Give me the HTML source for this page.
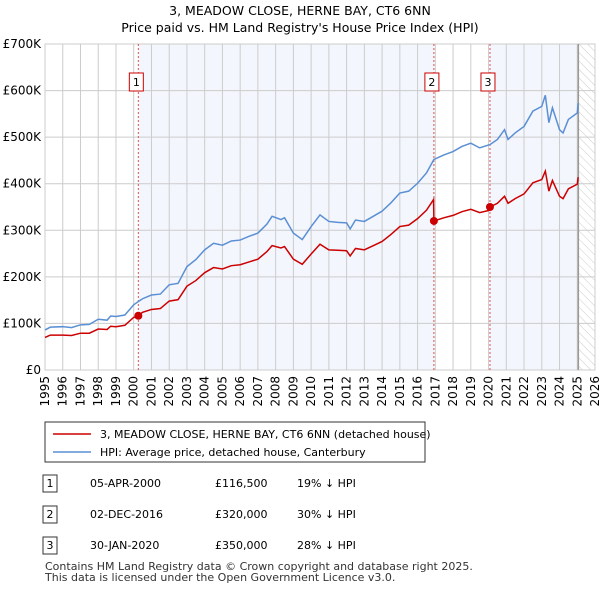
<!DOCTYPE html>
<html><head><meta charset="utf-8"><style>
body{margin:0;background:#fff;font-family:"Liberation Sans","DejaVu Sans",sans-serif;}
svg text{font-family:"DejaVu Sans","Liberation Sans",sans-serif;}
</style></head><body>
<svg id="c" width="600" height="590" xmlns="http://www.w3.org/2000/svg">
<defs><pattern id="h" width="6" height="6" patternUnits="userSpaceOnUse" patternTransform="rotate(-45)"><line x1="0" y1="0" x2="0" y2="6" stroke="#ccc" stroke-width="1"/></pattern></defs>
<text x="300" y="15" text-anchor="middle" font-size="12.5">3, MEADOW CLOSE, HERNE BAY, CT6 6NN</text>
<text x="300" y="32" text-anchor="middle" font-size="12.5">Price paid vs. HM Land Registry's House Price Index (HPI)</text>
<g id="plot"></g>
<g>
<rect x="45" y="422" width="380" height="40" fill="#fff" stroke="#333"/>
<line x1="53" y1="434" x2="91" y2="434" stroke="#cc0000" stroke-width="1.5"/>
<text x="100" y="438" font-size="11">3, MEADOW CLOSE, HERNE BAY, CT6 6NN (detached house)</text>
<line x1="53" y1="452" x2="91" y2="452" stroke="#5b8fd4" stroke-width="1.5"/>
<text x="100" y="456" font-size="11">HPI: Average price, detached house, Canterbury</text>
</g>
<g font-size="11">
<rect x="43" y="475" width="14" height="17" fill="#fff" stroke="#333"/><text x="50" y="487" text-anchor="middle">1</text>
<text x="90" y="487">05-APR-2000</text><text x="215" y="487">£116,500</text><text x="297" y="487">19% ↓ HPI</text>
<rect x="43" y="506" width="14" height="17" fill="#fff" stroke="#333"/><text x="50" y="518" text-anchor="middle">2</text>
<text x="90" y="518">02-DEC-2016</text><text x="215" y="518">£320,000</text><text x="297" y="518">30% ↓ HPI</text>
<rect x="43" y="537" width="14" height="17" fill="#fff" stroke="#333"/><text x="50" y="549" text-anchor="middle">3</text>
<text x="90" y="549">30-JAN-2020</text><text x="215" y="549">£350,000</text><text x="297" y="549">28% ↓ HPI</text>
</g>
<text x="45" y="570" font-size="11" fill="#333">Contains HM Land Registry data © Crown copyright and database right 2025.</text>
<text x="45" y="581" font-size="11" fill="#333">This data is licensed under the Open Government Licence v3.0.</text>
</svg>
<script>
const hpiYears=[1995.0,1995.3,1996,1996.5,1997,1997.5,1998,1998.5,1998.7,1999,1999.5,2000,2000.26,2000.5,2001,2001.5,2002,2002.5,2003,2003.5,2004,2004.5,2005,2005.5,2006,2006.5,2007,2007.5,2007.8,2008.3,2008.5,2009,2009.5,2010,2010.5,2011,2011.5,2012,2012.2,2012.5,2013,2013.5,2014,2014.5,2015,2015.5,2016,2016.5,2016.92,2017.5,2018,2018.5,2019,2019.5,2020.08,2020.5,2020.9,2021.1,2021.5,2022,2022.5,2023,2023.2,2023.4,2023.6,2024,2024.2,2024.5,2025,2025.05];
const hpiValues=[86,92,93,91,97,98,109,107,116,115,118,140,147,153,161,163,183,186,222,237,258,272,268,277,279,287,294,313,330,323,327,294,280,308,333,319,317,316,303,322,319,330,341,359,380,384,401,423,452,462,469,480,487,477,484,495,516,495,509,523,556,566,590,531,563,516,509,538,552,573];
const priceYears=[1995.0,1995.3,1996,1996.5,1997,1997.5,1998,1998.5,1998.7,1999,1999.5,2000,2000.26,2000.5,2001,2001.5,2002,2002.5,2003,2003.5,2004,2004.5,2005,2005.5,2006,2006.5,2007,2007.5,2007.8,2008.3,2008.5,2009,2009.5,2010,2010.5,2011,2011.5,2012,2012.2,2012.5,2013,2013.5,2014,2014.5,2015,2015.5,2016,2016.5,2016.9,2016.92,2017.5,2018,2018.5,2019,2019.5,2020.07,2020.08,2020.5,2020.9,2021.1,2021.5,2022,2022.5,2023,2023.2,2023.4,2023.6,2024,2024.2,2024.5,2025,2025.05];
const priceValues=[70,75,75,74,79,79,88,87,94,93,96,113,116.5,124,130,132,148,151,180,192,209,220,217,224,226,232,238,254,267,262,265,238,227,249,270,258,257,256,245,261,258,267,276,291,308,311,325,343,366,320,327,332,340,345,338,343,350,358,373,358,368,378,402,409,427,384,407,373,368,389,399,414];
const saleYears=[2000.26,2016.92,2020.08];
const saleValues=[116.5,320,350];
const saleLabels=["1","2","3"];
const yTicks=[0,100,200,300,400,500,600,700];
const yTickLabels=["£0","£100K","£200K","£300K","£400K","£500K","£600K","£700K"];
const xTicks=[1995,1996,1997,1998,1999,2000,2001,2002,2003,2004,2005,2006,2007,2008,2009,2010,2011,2012,2013,2014,2015,2016,2017,2018,2019,2020,2021,2022,2023,2024,2025,2026];
const dataEnd=2025.06;

const L=45,R=595,T=44,B=370,X0=1995,X1=2026,YMAX=700;
const x=v=>L+(v-X0)/(X1-X0)*(R-L);
const y=v=>B-v/YMAX*(B-T);
const NS="http://www.w3.org/2000/svg";
const g=document.getElementById('plot');
function mk(t,a,p){const e=document.createElementNS(NS,t);for(const k in a)e.setAttribute(k,a[k]);(p||g).appendChild(e);return e;}

let e;
e=mk('rect',{x:x(saleYears[0]),y:T,width:x(saleYears[1])-x(saleYears[0]),height:B-T,fill:'#f3f6fd'});


e=mk('rect',{x:x(saleYears[2]),y:T,width:x(dataEnd)-x(saleYears[2]),height:B-T,fill:'#f3f6fd'});


e=mk('rect',{x:x(dataEnd),y:T,width:R-x(dataEnd),height:B-T,fill:'url(#h)'});



yTicks.forEach((v,i)=>{
 e=mk('line',{x1:L,x2:R,y1:y(v),y2:y(v),stroke:'#ccc'});
 
 
 e=mk('text',{x:L-4,y:y(v)+4,'text-anchor':'end','font-size':'12'});
 e.textContent=yTickLabels[i];
 
 
});
xTicks.forEach(v=>{
 e=mk('line',{x1:x(v),x2:x(v),y1:T,y2:B,stroke:'#ccc'});
 
 
 e=mk('text',{transform:`translate(${x(v)+4},${B+6}) rotate(-90)`,'text-anchor':'end','font-size':'12'});
 e.textContent=v;
 
 
});
e=mk('rect',{x:L,y:T,width:R-L,height:B-T,fill:'none',stroke:'#ccc'});


e=mk('line',{x1:x(dataEnd),x2:x(dataEnd),y1:T,y2:B,stroke:'#999','stroke-width':1.5});



saleYears.forEach((s,i)=>{
 e=mk('line',{x1:x(s),x2:x(s),y1:T,y2:B,stroke:'#e05050','stroke-dasharray':'2,2'});
 
 
});

e=mk('polyline',{points:hpiYears.map((v,i)=>x(v)+','+y(hpiValues[i])).join(' '),fill:'none',stroke:'#5b8fd4','stroke-width':1.5});


e=mk('polyline',{points:priceYears.map((v,i)=>x(v)+','+y(priceValues[i])).join(' '),fill:'none',stroke:'#cc0000','stroke-width':1.5});



saleYears.forEach((s,i)=>{
 e=mk('circle',{cx:x(s),cy:y(saleValues[i]),r:4,fill:'#cc0000'});
 
 
 e=mk('rect',{x:x(s)-9,y:73,width:14,height:18,fill:'#fff',stroke:'#cc0000'});
 
 
 e=mk('text',{x:x(s)-2,y:86,'text-anchor':'middle','font-size':'11'});
 e.textContent=saleLabels[i];
 
 
});
</script>
</body></html>
